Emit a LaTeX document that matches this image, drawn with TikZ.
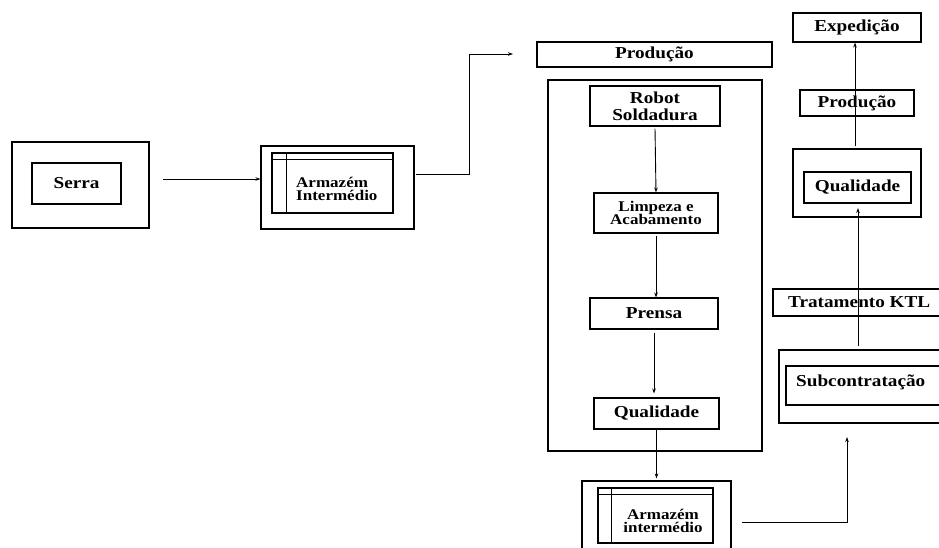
\documentclass[tikz,border=0pt]{standalone}
\usepackage{fontspec}
\setmainfont{Liberation Serif}[FakeStretch=1.15]
\usetikzlibrary{arrows.meta}
\begin{document}
\begin{tikzpicture}[x=1pt,y=-1pt,
  box/.style={draw, line width=1.1pt, inner sep=0pt, rectangle},
  lbl/.style={font=\fontsize{16.7}{17}\selectfont\bfseries, inner sep=0pt, align=center},
  slbl/.style={font=\fontsize{14.8}{13.5}\selectfont\bfseries, inner sep=0pt, align=center},
  conn/.style={line width=0.9pt, -{Stealth[length=5pt,width=3.5pt]}},
  plainline/.style={line width=1.1pt}]
\clip (0,0) rectangle (939,547);
% Serra
\node[box, minimum width=137pt, minimum height=86pt] (serrao) at (80.5,185) {};
\node[box, minimum width=89pt, minimum height=41pt, lbl] (serrai) at (76.5,183.5) {Serra};
% Armazem 1
\node[box, minimum width=153pt, minimum height=83pt] (arm1o) at (337.5,187.5) {};
\node[box, minimum width=121pt, minimum height=60pt] (arm1i) at (332.5,183) {};
\draw[plainline] ([yshift=-7pt]arm1i.north west) -- ([yshift=-7pt]arm1i.north east);
\draw[plainline] ([xshift=15pt]arm1i.north west) -- ([xshift=15pt]arm1i.south west);
\node[slbl, align=left, anchor=west] (arm1t) at (296,189) {Armazém\\Intermédio};
% Producao column
\node[box, minimum width=235pt, minimum height=25pt, lbl] (prodtop) at (654.5,54.5) {Produção};
\node[box, minimum width=214pt, minimum height=371pt] (cont) at (655,265.5) {};
\node[box, minimum width=130pt, minimum height=40pt, lbl] (robot) at (655,106) {Robot\\Soldadura};
\node[box, minimum width=124pt, minimum height=40pt, slbl] (limp) at (656,213) {Limpeza e\\Acabamento};
\node[box, minimum width=128pt, minimum height=31pt, lbl] (prensa) at (654,313.5) {Prensa};
\node[box, minimum width=125pt, minimum height=31pt, lbl] (qual1) at (656.5,413.5) {Qualidade};
% Armazem 2
\node[box, minimum width=149pt, minimum height=79pt] (arm2o) at (656.5,520.5) {};
\node[box, minimum width=115pt, minimum height=55pt] (arm2i) at (655.5,515.5) {};
\draw[plainline] ([yshift=-7pt]arm2i.north west) -- ([yshift=-7pt]arm2i.north east);
\draw[plainline] ([xshift=14pt]arm2i.north west) -- ([xshift=14pt]arm2i.south west);
\node[slbl] (arm2t) at (663,521) {Armazém\\intermédio};
% Right column
\node[box, minimum width=171pt, minimum height=73pt] (subo) at (864.5,386.5) {};
\node[box, minimum width=164pt, minimum height=39pt] (subi) at (868,385.5) {};
\node[lbl, anchor=west] (subt) at (796,382) {Subcontratação};
\node[box, minimum width=177pt, minimum height=27pt] (ktl) at (861.5,302.5) {};
\node[lbl, anchor=west] (ktlt) at (788,302) {Tratamento KTL};
\node[box, minimum width=128pt, minimum height=68pt] (qual2o) at (857,183) {};
\node[box, minimum width=107pt, minimum height=31pt, lbl] (qual2i) at (857.5,187.5) {Qualidade};
\node[box, minimum width=114pt, minimum height=26pt, lbl] (prod2) at (857,103) {Produção};
\node[box, minimum width=128pt, minimum height=29pt, lbl] (exped) at (857,27.5) {Expedição};
% Connectors
\coordinate (a1s) at (163,179);
\draw[conn] (a1s) -- (a1s -| arm1o.west);
\coordinate (a2s) at (416,174);
\coordinate (a2e) at (513,54);
\draw[conn] (a2s) -- ++(53,0) |- (a2e);
\draw[conn] ([yshift=-2pt]robot.south) -- (limp.north);
\draw[conn] ([yshift=-2pt]limp.south) -- (limp.south |- prensa.north);
\draw[conn] ([yshift=-3pt]prensa.south) -- ([yshift=4pt]prensa.south |- qual1.north);
\draw[conn] (qual1.south) -- ([yshift=2pt]qual1.south |- arm2o.north);
\coordinate (a3s) at (742,522);
\coordinate (a3e) at (847,437);
\draw[conn] (a3s) -| (a3e);
\coordinate (a4s) at (858,346);
\coordinate (a4e) at (858,208);
\draw[conn] (a4s) -- (a4e);
\coordinate (a5s) at (855,146);
\draw[conn] (a5s) -- (a5s |- exped.south);
\end{tikzpicture}
\end{document}
